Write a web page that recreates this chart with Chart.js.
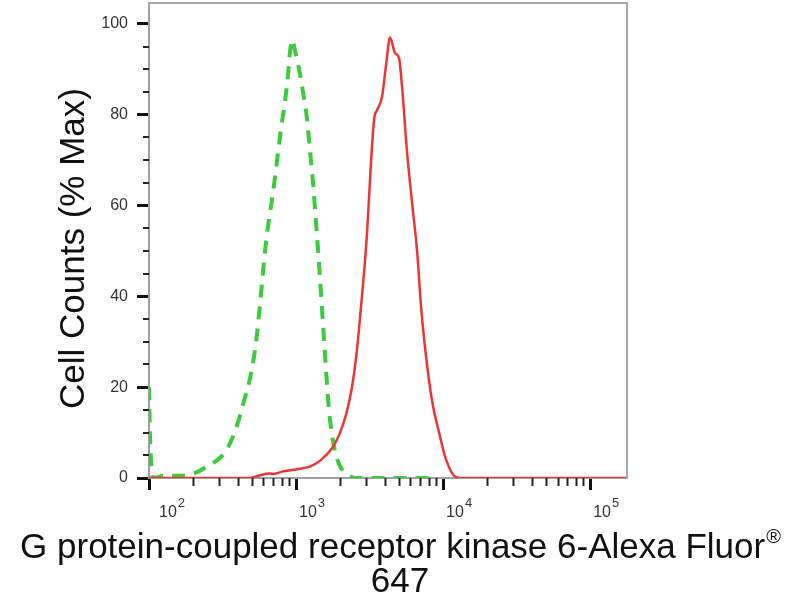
<!DOCTYPE html>
<html>
<head>
<meta charset="utf-8">
<script src="https://cdn.jsdelivr.net/npm/chart.js@4.4.1/dist/chart.umd.min.js"></script>
<style>
html, body { margin: 0; padding: 0; background: #fff; }
</style>
</head>
<body>
<canvas id="canvas" width="800" height="600"></canvas>
<script>
// fluorescence intensity (x) and cell counts as % of max (y)
var stainedX = [100, 479, 560, 655, 708, 803, 968, 1130, 1265, 1480, 1760, 1965, 2190, 2400, 2570, 2770, 2995,
    3395, 3556, 3846, 4095, 4355, 4710, 5010, 5260, 5690, 6150, 6650, 7080, 7660, 8410, 9390, 10480, 12250, 14330, 178000];
var stainedY = [0, 0, 0.5, 1.0, 0.9, 1.4, 1.8, 2.2, 2.6, 4, 6.6, 9.5, 14, 20, 27, 38, 51,
    79, 81, 84, 91, 97, 93.6, 92.5, 86, 71.6, 60.6, 50, 37.7, 26.7, 17, 10, 4, 0.2, 0, 0];

var isotypeX = [100, 101.6, 104.8, 108, 126, 160, 202, 244, 334, 391, 443, 494, 535, 578, 615, 655, 698, 743, 791,
    842, 883, 911, 940, 985, 1033, 1082, 1134, 1188, 1245, 1305, 1369, 1434, 1503, 1575, 1675, 1815, 1965, 2190, 2570, 8280];
var isotypeY = [20, 9, 1, 0, 0.5, 0.5, 1, 2.4, 6, 11, 17, 23, 30, 40.7, 50, 57, 63, 70, 77,
    83, 89, 94, 96.5, 94, 91, 87.6, 83.5, 79, 72, 65, 56, 47, 37, 27, 15, 6.8, 3, 1, 0, 0];

var xDecades = [100, 1000, 10000, 100000];
var yTicks = [0, 20, 40, 60, 80, 100];
var xMin = 100, xMax = 178000;
var yMin = 0, yMax = 104.6;

var xTitle = "G protein-coupled receptor kinase 6-Alexa Fluor";
var xTitleMark = "\u00ae";
var xTitleLine2 = "647";
var yTitle = "Cell Counts (% Max)";

var FONT = "'Liberation Sans', Arial, Helvetica, sans-serif";

function toPoints(xs, ys) {
    var pts = [];
    for (var i = 0; i < xs.length; i++) {
        pts.push({x: xs[i], y: ys[i]});
    }
    return pts;
}

// frame, minor ticks, decade labels (10 with raised exponent) and the axis titles
var axisDecor = {
    id: 'axisDecor',
    afterDraw: function(chart) {
        var ctx = chart.ctx, area = chart.chartArea;
        var xs = chart.scales.x, ys = chart.scales.y;
        ctx.save();
        ctx.strokeStyle = '#a8a8a8';
        ctx.lineWidth = 2;
        ctx.beginPath();
        ctx.moveTo(area.left, area.top);
        ctx.lineTo(area.right, area.top);
        ctx.lineTo(area.right, area.bottom);
        ctx.stroke();

        ctx.strokeStyle = '#222';
        ctx.lineWidth = 2;
        ctx.beginPath();
        xDecades.forEach(function(d) {
            for (var m = 2; m <= 9; m++) {
                var v = d * m;
                if (v > xMax) continue;
                var px = Math.round(xs.getPixelForValue(v)) + 0.5;
                ctx.moveTo(px, area.bottom);
                ctx.lineTo(px, area.bottom + 8);
            }
        });
        for (var v = 5; v < yMax; v += 5) {
            if (v % 20 === 0) continue;
            var py = Math.round(ys.getPixelForValue(v));
            ctx.moveTo(area.left - 6, py);
            ctx.lineTo(area.left, py);
        }
        ctx.stroke();

        // decade labels
        ctx.fillStyle = '#333';
        ctx.textBaseline = 'middle';
        ctx.textAlign = 'left';
        xDecades.forEach(function(d, i) {
            var px = xs.getPixelForValue(d);
            var x0 = px + (i === 0 ? 10 : 3);
            var y0 = area.bottom + 35;
            ctx.font = '16px ' + FONT;
            ctx.fillText('10', x0, y0);
            var w = ctx.measureText('10').width;
            ctx.font = '13px ' + FONT;
            ctx.fillText(String(Math.round(Math.log10(d))), x0 + w + 1, y0 - 10);
        });

        // x title, two lines, with a superscript mark
        ctx.fillStyle = '#111';
        ctx.font = '35px ' + FONT;
        var w1 = ctx.measureText(xTitle).width;
        ctx.font = '20px ' + FONT;
        var wm = ctx.measureText(xTitleMark).width;
        var cx = chart.width / 2;
        var line2Y = xs.bottom - 18;
        var line1Y = line2Y - 34;
        var start = cx - (w1 + wm) / 2;
        ctx.font = '35px ' + FONT;
        ctx.fillText(xTitle, start, line1Y);
        ctx.font = '20px ' + FONT;
        ctx.fillText(xTitleMark, start + w1 + 1, line1Y - 11);
        ctx.font = '35px ' + FONT;
        ctx.textAlign = 'center';
        ctx.fillText(xTitleLine2, cx, line2Y);

        // y title
        ctx.translate(ys.left + 74, (area.top + area.bottom) / 2 + 8);
        ctx.rotate(-Math.PI / 2);
        ctx.fillText(yTitle, 0, 0);
        ctx.restore();
    }
};

var ctx = document.getElementById('canvas').getContext('2d');
var chart = new Chart(ctx, {
    type: 'line',
    data: {
        datasets: [
            {
                label: 'Stained',
                data: toPoints(stainedX, stainedY),
                borderColor: '#ee3535',
                borderWidth: 2.5,
                pointRadius: 0,
                fill: false,
                cubicInterpolationMode: 'monotone'
            },
            {
                label: 'Isotype control',
                data: toPoints(isotypeX, isotypeY),
                borderColor: '#3ccb3c',
                borderWidth: 4,
                borderDash: [13, 9],
                pointRadius: 0,
                fill: false,
                cubicInterpolationMode: 'monotone'
            }
        ]
    },
    options: {
        responsive: false,
        animation: false,
        devicePixelRatio: 1,
        layout: { padding: { left: 0, right: 173, top: 3, bottom: 0 } },
        plugins: {
            legend: { display: false },
            tooltip: { enabled: false }
        },
        scales: {
            x: {
                type: 'logarithmic',
                min: xMin,
                max: xMax,
                afterBuildTicks: function(s) {
                    s.ticks = xDecades.map(function(v) { return {value: v, major: true}; });
                },
                afterFit: function(s) {
                    s.height = 122;
                    s.paddingLeft = 0;
                    s.paddingRight = 0;
                },
                border: { display: true, color: '#a0a0a0', width: 2 },
                grid: { drawOnChartArea: false, drawTicks: true, tickLength: 12, tickWidth: 3, tickColor: '#111' },
                ticks: { display: false, autoSkip: false, maxRotation: 0 },
                title: { display: false }
            },
            y: {
                min: yMin,
                max: yMax,
                afterBuildTicks: function(s) {
                    s.ticks = yTicks.map(function(v) { return {value: v}; });
                },
                afterFit: function(s) {
                    s.width = 149;
                    s.paddingTop = 0;
                    s.paddingBottom = 0;
                },
                border: { display: true, color: '#a0a0a0', width: 2 },
                grid: { drawOnChartArea: false, drawTicks: true, tickLength: 12, tickWidth: 3, tickColor: '#111' },
                ticks: {
                    padding: 9,
                    color: '#333',
                    font: { family: FONT, size: 16 }
                },
                title: { display: false }
            }
        }
    },
    plugins: [axisDecor]
});
</script>
</body>
</html>
